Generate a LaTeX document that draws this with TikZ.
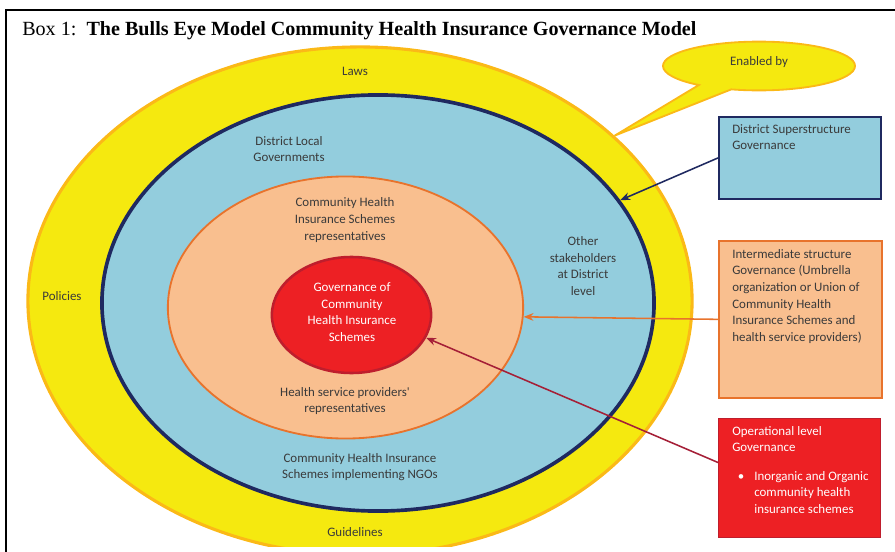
\documentclass[tikz,border=0pt]{standalone}
\usepackage{fontspec}
\setmainfont{Liberation Serif}
\newfontfamily\labelfont{Carlito}
\usetikzlibrary{shapes.geometric,shapes.callouts,arrows.meta,calc}

\definecolor{lawyellow}{HTML}{F5E90F}
\definecolor{lawrim}{HTML}{FBB917}
\definecolor{distblue}{HTML}{93CDDD}
\definecolor{distrim}{HTML}{1F2960}
\definecolor{midorange}{HTML}{F9BF8F}
\definecolor{midrim}{HTML}{E8732C}
\definecolor{opred}{HTML}{ED2024}
\definecolor{oprim}{HTML}{BE1E2D}
\definecolor{arrowred}{HTML}{A51F37}
\definecolor{labelgray}{HTML}{3A3A3A}

\tikzset{
	ring/.style={ellipse, inner sep=0pt, line width=#1},
	govbox/.style={rectangle, inner sep=0pt, anchor=north west},
	lbl/.style={font=\labelfont\fontsize{9.2}{11.8}\selectfont, text=labelgray, align=center, inner sep=0pt},
	boxlbl/.style={lbl, align=left, anchor=north west},
	link/.style={line width=1.1pt, -{Stealth[length=7pt,width=5.5pt]}},
}

\begin{document}
\begin{tikzpicture}[x=0.025cm,y=-0.025cm]
	\useasboundingbox (0,0) rectangle (895,552);
	
	% frame and title
	\draw[line width=1pt] (6,560) -- (6,10) -- (900,10);
	\node[anchor=west, inner sep=0pt, font=\fontsize{14.3}{16}\selectfont] (title) at (22,31)
		{Box 1:\ \ \textbf{The Bulls Eye Model Community Health Insurance Governance Model}};
	
	% the four rings, outside in
	\begin{scope}
		\clip (6,10) rectangle (895,546);
		\node[ring=2.2pt, draw=lawrim, fill=lawyellow, minimum width=16.6cm, minimum height=12.7cm] (outer) at (360,301) {};
	\end{scope}
	\node[ring=2.6pt, draw=distrim, fill=distblue, minimum width=13.8cm, minimum height=10.4cm] (district) at (378,303) {};
	\node[ring=1.3pt, draw=midrim, fill=midorange, minimum width=8.88cm, minimum height=6.55cm] (schemes) at (345.5,307.5) {};
	\node[ring=1.8pt, draw=oprim, fill=opred, minimum width=3.98cm, minimum height=2.9cm] (core) at (351.5,315) {};
	
	% ring texts
	\node[lbl] (laws) at (355,71) {Laws};
	\node[lbl] (policies) at (62,296) {Policies};
	\node[lbl] (guidelines) at (355,532) {Guidelines};
	\node[lbl] (dlg) at (289,149) {District Local\\Governments};
	\node[lbl] (others) at (583,266) {Other\\stakeholders\\at District\\level};
	\node[lbl] (ngos) at (360,467) {Community Health Insurance\\Schemes implementing NGOs};
	\node[lbl] (reps) at (345,220) {Community Health\\Insurance Schemes\\representatives};
	\node[lbl] (providers) at (345,401) {Health service providers'\\representatives};
	\node[lbl, text=white] (corelbl) at (352,312) {Governance of\\Community\\Health Insurance\\Schemes};
	
	% callout
	\node[ellipse callout, draw=lawrim, fill=lawyellow, line width=1.3pt, inner sep=0pt,
		minimum width=4.8cm, minimum height=1.22cm, callout pointer arc=22,
		callout absolute pointer={(outer.33)}] (enabled) at (759,66) {};
	\node[lbl] (enabledlbl) at (759,62) {Enabled by};
	
	% governance levels
	\node[govbox, draw=distrim, fill=distblue, line width=1.3pt, minimum width=4.05cm, minimum height=2.05cm] (distbox) at (718,116) {};
	\node[boxlbl] (distlbl) at (732,124) {District Superstructure\\Governance};
	
	\node[govbox, draw=midrim, fill=midorange, line width=1.3pt, minimum width=4.07cm, minimum height=3.92cm] (interbox) at (718,240) {};
	\node[boxlbl] (interlbl) at (732,249) {Intermediate structure\\Governance (Umbrella\\organization or Union of\\Community Health\\Insurance Schemes and\\health service providers)};
	
	\node[govbox, draw=oprim, fill=opred, line width=1pt, minimum width=4.05cm, minimum height=2.97cm] (operbox) at (718,418) {};
	\node[boxlbl, text=white] (operlbl) at (732,426) {Operational level\\Governance};
	\node[lbl, text=white] (bullet) at (741,478) {\textbullet};
	\node[boxlbl, text=white] (operitem) at (754,471) {Inorganic and Organic\\community health\\insurance schemes};
	
	% links
	\draw[link, distrim] (distbox.west) -- (district.23);
	\draw[link, midrim] (interbox.west) -- (schemes.-3.5);
	\draw[link, arrowred] ($(operbox.north west)!0.37!(operbox.south west)$) -- (core.-17);
\end{tikzpicture}
\end{document}
